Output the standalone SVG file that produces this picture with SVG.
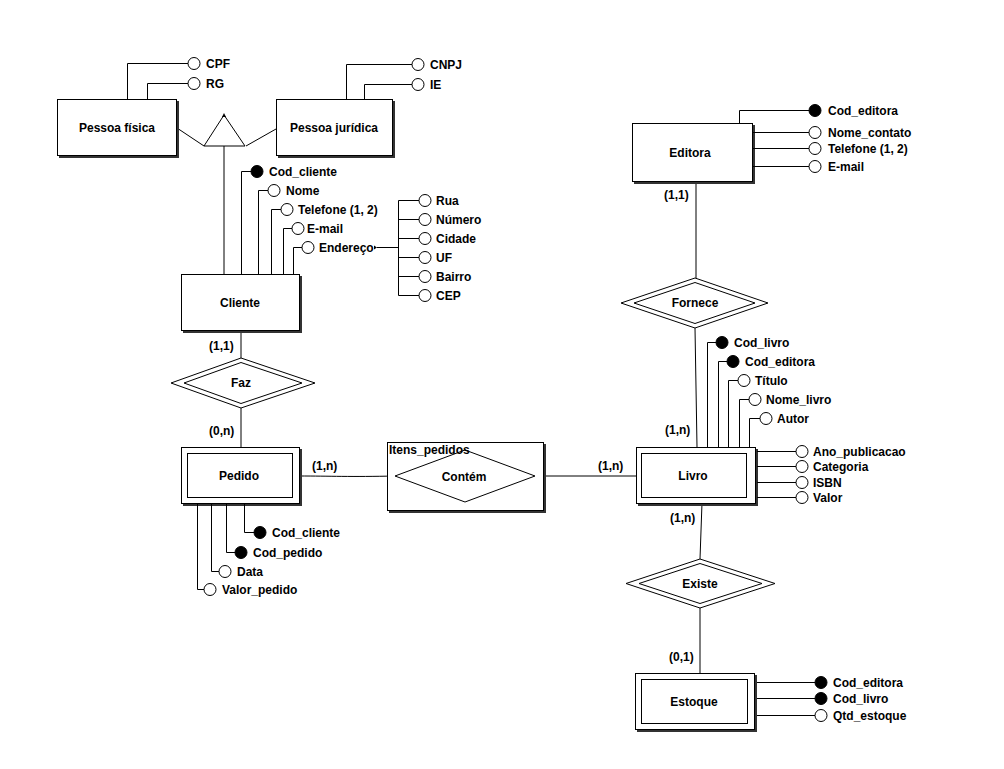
<svg xmlns="http://www.w3.org/2000/svg" width="1004" height="769" viewBox="0 0 1004 769">
<style>
text{font-family:"Liberation Sans",Arial,sans-serif;font-weight:bold;font-size:12px;fill:#000}
.t{text-anchor:middle}
.e{fill:#fff;stroke:#000;stroke-width:1}
.sh{fill:#333}
.ln{fill:none;stroke:#000;stroke-width:1}
.o{fill:#fff;stroke:#000;stroke-width:1}
.f{fill:#000;stroke:#000;stroke-width:1}
</style>
<rect width="1004" height="769" fill="#fff"/>
<g id="connectors">
<path class="ln" d="M177,128 L204,146 M246,146 L276,129 M224,146 V275"/>
<path class="ln" d="M241,331 V358 M241,408 V447"/>
<path class="ln" d="M299,476 C330,476 350,477 395,476 M535,476 H636"/>
<path class="ln" d="M696,181 V278 M695,328 L697,447"/>
<path class="ln" d="M702,503 L700,559 M700,608 V673"/>
</g>
<g id="isa">
<polygon class="o" points="224,115 204,146 245,146"/>
<polygon points="224,113 222,117 226,117" fill="#000"/>
</g>
<g id="pessoa_fisica">
<rect class="sh" x="59" y="101" width="120" height="57"/>
<rect class="e" x="57.5" y="99.5" width="119" height="56"/>
<text class="t" x="117" y="132">Pessoa física</text>
<path class="ln" d="M127.5,99 V63.5 H188 M147.5,99 V83.5 H188"/>
<circle class="o" cx="194" cy="63.5" r="6"/><text x="206" y="68">CPF</text>
<circle class="o" cx="194" cy="83.5" r="6"/><text x="206" y="88">RG</text>
</g>
<g id="pessoa_juridica">
<rect class="sh" x="278" y="101" width="117" height="57"/>
<rect class="e" x="276.5" y="99.5" width="116" height="56"/>
<text class="t" x="334" y="132">Pessoa jurídica</text>
<path class="ln" d="M346.5,99 V64.5 H412 M364.5,99 V84.5 H412"/>
<circle class="o" cx="418" cy="64.5" r="6"/><text x="430" y="69">CNPJ</text>
<circle class="o" cx="418" cy="84.5" r="6"/><text x="430" y="89">IE</text>
</g>
<g id="cliente">
<rect class="sh" x="183" y="276" width="119" height="57"/>
<rect class="e" x="181.5" y="274.5" width="118" height="56"/>
<text class="t" x="240" y="307">Cliente</text>
<path class="ln" d="M241.5,274 V171.5 H251 M258.5,274 V190.5 H268 M271.5,274 V209.5 H281 M283.5,274 V228.5 H292 M293.5,274 V247.5 H302"/>
<circle class="f" cx="257" cy="171.5" r="6"/><text x="269" y="176">Cod_cliente</text>
<circle class="o" cx="274" cy="190.5" r="6"/><text x="286" y="195">Nome</text>
<circle class="o" cx="287" cy="209.5" r="6"/><text x="298" y="214">Telefone (1, 2)</text>
<circle class="o" cx="298" cy="228.5" r="6"/><text x="307" y="233">E-mail</text>
<circle class="o" cx="308" cy="247.5" r="6"/><text x="319" y="252">Endereço</text>
<polygon points="374,245.5 377,247.5 374,249.5" fill="#000"/>
<path class="ln" d="M377,247.5 H398.5 M398.5,200.5 V295.5 M398.5,200.5 H419 M398.5,219.5 H419 M398.5,238.5 H419 M398.5,257.5 H419 M398.5,276.5 H419 M398.5,295.5 H419"/>
<circle class="o" cx="425" cy="200.5" r="6"/><text x="436" y="205">Rua</text>
<circle class="o" cx="425" cy="219.5" r="6"/><text x="436" y="224">Número</text>
<circle class="o" cx="425" cy="238.5" r="6"/><text x="436" y="243">Cidade</text>
<circle class="o" cx="425" cy="257.5" r="6"/><text x="436" y="262">UF</text>
<circle class="o" cx="425" cy="276.5" r="6"/><text x="436" y="281">Bairro</text>
<circle class="o" cx="425" cy="295.5" r="6"/><text x="436" y="300">CEP</text>
<text x="209" y="350">(1,1)</text>
</g>
<g id="faz">
<polygon class="o" points="241,358 315,383 241,408 171,383"/>
<polygon class="o" points="241,362.5 302,383 241,403.5 184,383"/>
<text class="t" x="241" y="387">Faz</text>
<text x="209" y="435">(0,n)</text>
</g>
<g id="pedido">
<rect class="sh" x="183" y="449" width="119" height="57"/>
<rect class="e" x="181.5" y="447.5" width="118" height="56"/>
<rect class="e" x="187.5" y="453.5" width="105" height="44"/>
<text class="t" x="239" y="480">Pedido</text>
<path class="ln" d="M197.5,504 V589.5 H204 M211.5,504 V571.5 H219 M226.5,504 V552.5 H235 M244.5,504 V532.5 H254"/>
<circle class="f" cx="260" cy="532.5" r="6"/><text x="272" y="537">Cod_cliente</text>
<circle class="f" cx="241" cy="552.5" r="6"/><text x="253" y="557">Cod_pedido</text>
<circle class="o" cx="225" cy="571.5" r="6"/><text x="237" y="576">Data</text>
<circle class="o" cx="210" cy="589.5" r="6"/><text x="222" y="594">Valor_pedido</text>
<text x="312" y="470">(1,n)</text>
</g>
<g id="itens_pedidos">
<rect class="sh" x="389" y="444" width="157" height="69"/>
<rect class="e" x="387.5" y="442.5" width="156" height="68"/>
<polygon class="o" points="465,450 535,476 465,502 395,476"/>
<text x="389" y="454">Itens_pedidos</text>
<text class="t" x="464" y="481">Contém</text>
</g>
<g id="editora">
<rect class="sh" x="634" y="125" width="121" height="59"/>
<rect class="e" x="632.5" y="123.5" width="120" height="58"/>
<text class="t" x="690" y="157">Editora</text>
<path class="ln" d="M739.5,123 V110.5 H809 M753,132.5 H809 M753,148.5 H809 M753,166.5 H809"/>
<circle class="f" cx="815" cy="110.5" r="6"/><text x="828" y="115">Cod_editora</text>
<circle class="o" cx="815" cy="132.5" r="6"/><text x="828" y="137">Nome_contato</text>
<circle class="o" cx="815" cy="148.5" r="6"/><text x="828" y="153">Telefone (1, 2)</text>
<circle class="o" cx="815" cy="166.5" r="6"/><text x="828" y="171">E-mail</text>
<text x="664" y="199">(1,1)</text>
</g>
<g id="fornece">
<polygon class="o" points="695,278 768,303 695,328 621,303"/>
<polygon class="o" points="695,282.5 755,303 695,323.5 634,303"/>
<text class="t" x="695" y="307">Fornece</text>
</g>
<g id="livro">
<rect class="sh" x="638" y="449" width="120" height="57"/>
<rect class="e" x="636.5" y="447.5" width="119" height="56"/>
<rect class="e" x="641.5" y="453.5" width="105" height="44"/>
<text class="t" x="693" y="480">Livro</text>
<path class="ln" d="M707.5,447 V342.5 H716 M718.5,447 V361.5 H727 M728.5,447 V380.5 H738 M739.5,447 V399.5 H749 M749.5,447 V418.5 H760"/>
<circle class="f" cx="722" cy="342.5" r="6"/><text x="734" y="347">Cod_livro</text>
<circle class="f" cx="733" cy="361.5" r="6"/><text x="745" y="366">Cod_editora</text>
<circle class="o" cx="744" cy="380.5" r="6"/><text x="755" y="385">Título</text>
<circle class="o" cx="755" cy="399.5" r="6"/><text x="766" y="404">Nome_livro</text>
<circle class="o" cx="766" cy="418.5" r="6"/><text x="777" y="423">Autor</text>
<path class="ln" d="M757,451.5 H796 M757,466.5 H796 M757,482.5 H796 M757,497.5 H796"/>
<circle class="o" cx="802" cy="451.5" r="6"/><text x="813" y="456">Ano_publicacao</text>
<circle class="o" cx="802" cy="466.5" r="6"/><text x="813" y="471">Categoria</text>
<circle class="o" cx="802" cy="482.5" r="6"/><text x="813" y="487">ISBN</text>
<circle class="o" cx="802" cy="497.5" r="6"/><text x="813" y="502">Valor</text>
<text x="665" y="434">(1,n)</text>
<text x="598" y="470">(1,n)</text>
<text x="670" y="522">(1,n)</text>
</g>
<g id="existe">
<polygon class="o" points="700,559 775,583.5 700,608 626,583.5"/>
<polygon class="o" points="700,563.5 762,583.5 700,603.5 639,583.5"/>
<text class="t" x="700" y="588">Existe</text>
<text x="669" y="661">(0,1)</text>
</g>
<g id="estoque">
<rect class="sh" x="637" y="675" width="120" height="57"/>
<rect class="e" x="635.5" y="673.5" width="119" height="56"/>
<rect class="e" x="641.5" y="679.5" width="106" height="44"/>
<text class="t" x="694" y="706">Estoque</text>
<path class="ln" d="M757,682.5 H815 M757,698.5 H815 M757,715.5 H815"/>
<circle class="f" cx="821" cy="682.5" r="6"/><text x="833" y="687">Cod_editora</text>
<circle class="f" cx="821" cy="698.5" r="6"/><text x="833" y="703">Cod_livro</text>
<circle class="o" cx="821" cy="715.5" r="6"/><text x="833" y="720">Qtd_estoque</text>
</g>
</svg>
